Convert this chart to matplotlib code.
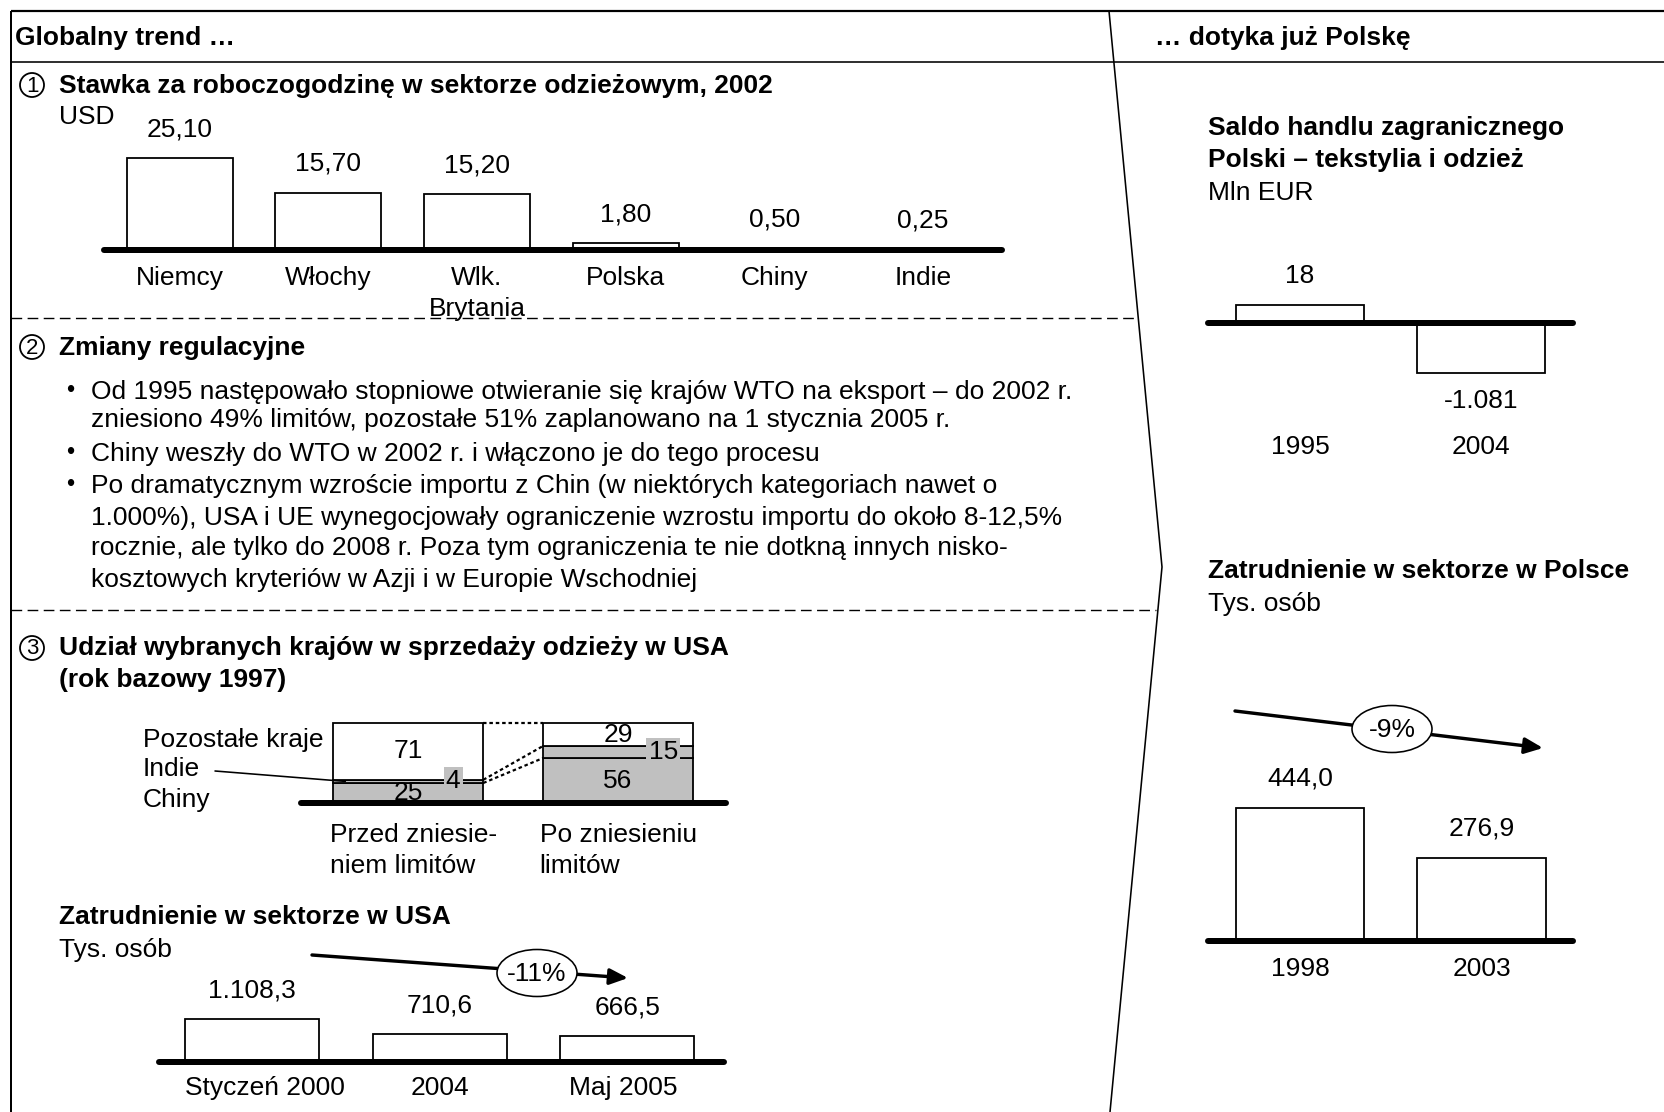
import numpy as np
import matplotlib
matplotlib.use("Agg")
import matplotlib.pyplot as plt
from matplotlib.patches import Ellipse, Circle

# ---------------------------------------------------------------- data
wage_countries = ["Niemcy", "Włochy", "Wlk.\nBrytania", "Polska", "Chiny", "Indie"]
wage_usd = [25.10, 15.70, 15.20, 1.80, 0.50, 0.25]

share_periods = ["Przed zniesie-\nniem limitów", "Po zniesieniu\nlimitów"]
share_china = [25, 56]
share_india = [4, 15]
share_other = [71, 29]
share_legend = ["Pozostałe kraje", "Indie", "Chiny"]

usa_periods = ["Styczeń 2000", "2004", "Maj 2005"]
usa_jobs = [1108.3, 710.6, 666.5]
usa_change = "-11%"

trade_years = ["1995", "2004"]
trade_balance = [18, -1081]

pl_years = ["1998", "2003"]
pl_jobs = [444.0, 276.9]
pl_change = "-9%"

bullets = [
    ["Od 1995 następowało stopniowe otwieranie się krajów WTO na eksport – do 2002 r.",
     "zniesiono 49% limitów, pozostałe 51% zaplanowano na 1 stycznia 2005 r."],
    ["Chiny weszły do WTO w 2002 r. i włączono je do tego procesu"],
    ["Po dramatycznym wzroście importu z Chin (w niektórych kategoriach nawet o",
     "1.000%), USA i UE wynegocjowały ograniczenie wzrostu importu do około 8-12,5%",
     "rocznie, ale tylko do 2008 r. Poza tym ograniczenia te nie dotkną innych nisko-",
     "kosztowych kryteriów w Azji i w Europie Wschodniej"],
]


def pl_num(v, decimals):
    """Polish number format: dot for thousands, comma for decimals."""
    s = f"{abs(v):,.{decimals}f}".replace(",", " ").replace(".", ",").replace(" ", ".")
    return ("-" if v < 0 else "") + s


# ---------------------------------------------------------------- canvas
W, H, DPI = 1664, 1112, 100
PT = 72 / DPI                      # points per pixel
plt.rcParams["font.family"] = ["Liberation Sans", "DejaVu Sans"]
FR = 19                            # regular text size
FB = 19                            # bold heading size
DY = 1.5                           # small downward nudge for free text rows

fig = plt.figure(figsize=(W / DPI, H / DPI), dpi=DPI)
fig.patch.set_facecolor("white")
ov = fig.add_axes([0, 0, 1, 1])
ov.set_xlim(0, W)
ov.set_ylim(H, 0)
ov.axis("off")


def line(xs, ys, lw_px=1.5, **kw):
    ov.plot(xs, ys, color="black", lw=lw_px * PT, solid_capstyle="butt", **kw)


def txt(x, y, s, bold=False, size=None, **kw):
    kw.setdefault("va", "center")
    kw.setdefault("ha", "left")
    ov.text(x, y + DY, s, fontsize=size or (FB if bold else FR),
            fontweight="bold" if bold else "normal", **kw)


def numbered(x, y, n):
    ov.add_patch(Circle((x, y), 12, fill=False, ec="black", lw=1.8 * PT))
    ov.text(x, y + 1, str(n), ha="center", va="center", fontsize=16)


# frame, header and panel divider
line([11, W], [11, 11], 2.2)
line([11, 11], [11, H], 2.0)
line([11, W], [61.5, 61.5], 1.6)
line([1109, 1162, 1110], [11, 567, H], 1.6)
txt(15, 36, "Globalny trend …", bold=True)
txt(1155, 36, "… dotyka już Polskę", bold=True)

# dashed separators between the left-hand sections
dash = (0, (7.7, 3.9))
ov.plot([11, 1134], [318, 318], color="black", lw=1.0, ls=dash)
ov.plot([11, 1156], [610, 610], color="black", lw=1.0, ls=dash)


# ---------------------------------------------------------------- chart helper
def chart_axes(x0, x1, y_top, y_bot, base, ppu, c0, step, linthresh=None):
    """Axes whose zero line sits at pixel row `base`, ppu pixels per (scaled) unit,
    category i centred at pixel column c0 + i*step."""
    ax = fig.add_axes([x0 / W, 1 - y_bot / H, (x1 - x0) / W, (y_bot - y_top) / H])
    ax.set_zorder(2)
    ax.patch.set_alpha(0)
    if linthresh is not None:
        ax.set_yscale("symlog", linthresh=linthresh)
    inv = ax.yaxis.get_transform().inverted()
    lims = np.ravel(inv.transform(np.array([-(y_bot - base) / ppu, (base - y_top) / ppu])))
    ax.set_ylim(lims[0], lims[1])
    ax.set_xlim((x0 - c0) / step, (x1 - c0) / step)
    ax.axis("off")
    ax.axhline(0, color="black", lw=6 * PT, solid_capstyle="round", clip_on=False, zorder=5)
    return ax


def bars(ax, values, width, **kw):
    x = np.arange(len(values))
    ax.bar(x, values, width, color="white", edgecolor="black", lw=1.8 * PT, zorder=3, **kw)
    return x


def value_labels(ax, x, values, labels, off_up, off_down=None):
    for xi, v, s in zip(x, values, labels):
        off = off_up if v >= 0 else -(off_down or off_up)
        ax.annotate(s, (xi, v), xytext=(0, off * PT), textcoords="offset points",
                    ha="center", va="center", fontsize=FR)


def cat_labels(ax, x, labels, off, pitch=31, ha="center", dx=0.0):
    has = ha if isinstance(ha, list) else [ha] * len(labels)
    dxs = dx if isinstance(dx, list) else [dx] * len(labels)
    for xi, lab, h, d in zip(x, labels, has, dxs):
        for k, part in enumerate(lab.split("\n")):
            ax.annotate(part, (xi + d, 0), xytext=(0, -(off + k * pitch) * PT),
                        textcoords="offset points", ha=h, va="center", fontsize=FR)


# ---------------------------------------------------------------- section 1
numbered(32, 85, 1)
txt(59, 84, "Stawka za roboczogodzinę w sektorze odzieżowym, 2002", bold=True)
txt(59, 116, "USD")

ax1 = chart_axes(104, 1002, 110, 330, 250, 3.66, 179.8, 148.6)
x = bars(ax1, wage_usd, 0.714)
value_labels(ax1, x, wage_usd, [pl_num(v, 2) for v in wage_usd], 29)
cat_labels(ax1, x, wage_countries, 28)

# ---------------------------------------------------------------- section 2
numbered(32, 347, 2)
txt(59, 346, "Zmiany regulacyjne", bold=True)
rows = [390, 419, 453, 484, 516, 547, 578]
r = 0
for item in bullets:
    txt(66, rows[r] - 1, "•", size=17)
    for ln in item:
        txt(91, rows[r], ln)
        r += 1

# ---------------------------------------------------------------- section 3
numbered(32, 648, 3)
txt(59, 647, "Udział wybranych krajów w sprzedaży odzieży w USA", bold=True)
txt(59, 679, "(rok bazowy 1997)", bold=True)

GREY = "#c0c0c0"
ax3 = chart_axes(301, 726, 700, 900, 803, 0.8, 408, 210)
w3 = 0.717
x3 = np.arange(len(share_china))
china = np.array(share_china)
india = np.array(share_india)
other = np.array(share_other)
kw3 = dict(edgecolor="black", lw=1.8 * PT, zorder=3)
ax3.bar(x3, china, w3, color=GREY, **kw3)
ax3.bar(x3, india, w3, bottom=china, color=GREY, **kw3)
ax3.bar(x3, other, w3, bottom=china + india, color="white", **kw3)
for xi in x3:
    ax3.text(xi, china[xi] / 2, str(china[xi]), ha="center", va="center", fontsize=FR, zorder=4)
    ax3.text(xi, china[xi] + india[xi] + other[xi] / 2, str(other[xi]),
             ha="center", va="center", fontsize=FR, zorder=4)
    ax3.text(xi + 0.215, china[xi] + india[xi] / 2, str(india[xi]), ha="center", va="center",
             fontsize=FR, zorder=4,
             bbox=dict(boxstyle="square,pad=0.08", fc=GREY, ec="none"))
# dotted links between matching segment borders
dot = (0, (1.6, 1.3))
lw_dot = 2.2 * PT
xa, xb = x3[0] + w3 / 2, x3[1] - w3 / 2
tops = china + india + other
ax3.plot([xa, xb], [tops[0], tops[1]], color="black", lw=lw_dot, ls=dot, zorder=2)
ax3.plot([xa, xb], [china[0], china[1]], color="black", lw=lw_dot, ls=dot, zorder=2)
ax3.plot([xa, xb], [china[0] + india[0], china[1] + india[1]], color="black",
         lw=lw_dot, ls=dot, zorder=2)
cat_labels(ax3, x3, share_periods, 32, ha="left", dx=-w3 / 2 - 0.015)

# segment legend with a leader to the India band
txt(143, 738, share_legend[0])
txt(143, 768, share_legend[1])
txt(143, 798, share_legend[2])
ax3.annotate("", xy=(x3[0] - w3 / 2 + 0.06, china[0] + india[0] / 2), xycoords="data",
             xytext=(215, 771), textcoords=ov.transData,
             arrowprops=dict(arrowstyle="-", lw=1.6 * PT, color="black",
                             shrinkA=0, shrinkB=0), zorder=6)

# US employment
txt(59, 915, "Zatrudnienie w sektorze w USA", bold=True)
txt(59, 948, "Tys. osób")
ax4 = chart_axes(159, 724, 960, 1110, 1061.7, 0.0383, 252, 187.7)
w4 = 0.714
x = bars(ax4, usa_jobs, w4)
value_labels(ax4, x, usa_jobs, [pl_num(v, 1) for v in usa_jobs], 29)
cat_labels(ax4, x, usa_periods, 26.5, ha=["left", "center", "center"],
           dx=[-w4 / 2, 0.0, -0.02])


def trend(p0, p1, centre, label):
    ov.annotate("", xy=p1, xytext=p0,
                arrowprops=dict(arrowstyle="-|>,head_length=0.55,head_width=0.24",
                                mutation_scale=20, lw=3.4 * PT, color="black",
                                shrinkA=0, shrinkB=0), zorder=3)
    ov.add_patch(Ellipse(centre, 80, 47, fc="white", ec="black", lw=1.6 * PT, zorder=4))
    ov.text(centre[0], centre[1] + 1, label, ha="center", va="center", fontsize=FR, zorder=5)


trend((312, 955), (628, 978), (537, 973), usa_change)

# ---------------------------------------------------------------- right panel
txt(1208, 127, "Saldo handlu zagranicznego", bold=True)
txt(1208, 159, "Polski – tekstylia i odzież", bold=True)
txt(1208, 192, "Mln EUR")
ax5 = chart_axes(1208, 1573, 270, 470, 322.6, 0.879, 1300, 181, linthresh=20)
x = bars(ax5, trade_balance, 0.707)
value_labels(ax5, x, trade_balance, [pl_num(v, 0) for v in trade_balance], 29.5, 28.5)
cat_labels(ax5, x, trade_years, 124.5)

txt(1208, 569, "Zatrudnienie w sektorze w Polsce", bold=True)
txt(1208, 602, "Tys. osób")
ax6 = chart_axes(1208, 1573, 760, 1000, 941, 0.2987, 1300, 181.5)
x = bars(ax6, pl_jobs, 0.707)
value_labels(ax6, x, pl_jobs, [pl_num(v, 1) for v in pl_jobs], 29.5)
cat_labels(ax6, x, pl_years, 27.5)
trend((1235, 711), (1543, 748), (1392, 729), pl_change)

fig.savefig("out.png", dpi=DPI, facecolor="white")
